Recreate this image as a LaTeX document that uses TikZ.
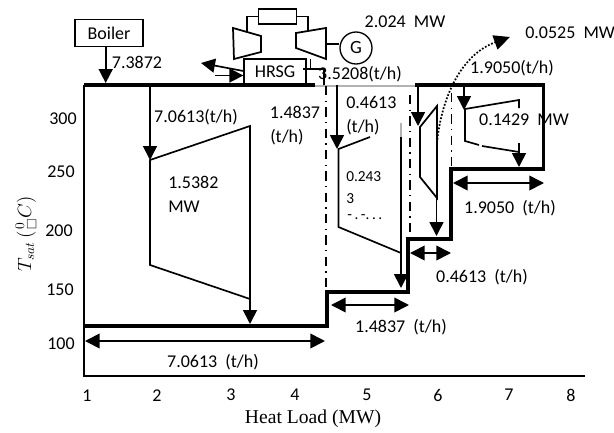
\documentclass[tikz,border=0pt]{standalone}
\usepackage{amsmath, amssymb}
\usepackage{fontspec}
\setmainfont{Carlito}
\newfontfamily\loadfont{Liberation Serif}
\usetikzlibrary{arrows.meta}
\tikzset{
  lbl/.style={inner sep=0pt, font=\fontsize{13.5}{16}\selectfont},
  lblsm/.style={inner sep=0pt, font=\fontsize{11.5}{14}\selectfont},
  boxnode/.style={draw, line width=1pt, inner sep=0pt},
  heavy/.style={line width=3.4pt, line join=miter},
  thinline/.style={line width=1.25pt},
  flow/.style={line width=1.25pt, -{Triangle[length=10.5pt,width=10.5pt]}},
  span/.style={line width=1.25pt, {Triangle[length=11pt,width=11pt]}-{Triangle[length=11pt,width=11pt]}},
  dashdotline/.style={line width=1pt, dash pattern=on 7pt off 4pt on 1pt off 4pt},
}
\begin{document}
\begin{tikzpicture}[x=0.75pt,y=0.75pt,yscale=-1,xscale=1]
\useasboundingbox (0,0) rectangle (614,432);

% Axis and composite curve
\draw [line width=1.6pt] (84,85) -- (84,376) -- (585,376) ;
\draw [heavy] (84,85) -- (315,85) ;
\draw [line width=0.8pt, gray!60] (315,86) -- (415,86) ;
\draw [heavy] (415,85) -- (545,85) ;
\draw [heavy] (84,326) -- (327,326) -- (327,292) -- (408,292) -- (408,239) -- (451,239) -- (451,169) -- (545,169) ;
\draw [line width=2.8pt] (543.5,85) -- (543.5,169) ;

% Pinch lines
\draw [dashdotline] (326,86) -- (326,292) ;
\draw [dashdotline] (410,95) -- (410,239) ;
\draw [dashdotline] (451.5,93) -- (451.5,169) ;

% Text Node
\draw (109,33) node (boiler) [boxnode, minimum width=51pt, minimum height=20.5pt, lbl] {Boiler};
\draw (275,72) node (hrsg) [boxnode, minimum width=46.5pt, minimum height=19.5pt, lbl] {HRSG};
\draw (277.5,16.5) node (cond) [boxnode, minimum width=28.5pt, minimum height=11.25pt] {};
\draw (356,48) node (gen) [boxnode, circle, minimum size=24pt, lbl, font=\fontsize{14}{16}\selectfont] {G};

% Gas turbine set
\draw [line width=1.3pt] (233,28) -- (261,36) -- (261,52) -- (234,59) -- cycle ;
\draw [line width=1.3pt] (296,33) -- (326,28) -- (326,59) -- (296,48) -- cycle ;
\draw [line width=1.3pt] (cond.west) -- (247,16.5) -- (247,33) ;
\draw [line width=1.3pt] (cond.east) -- (308,16.5) -- (308,31) ;
\draw [thinline] (326,44) -- (gen.west |- 326,44) ;
\draw [line width=1.3pt] (310.5,59) -- (310.5,69) ;
\draw [line width=1.3pt] (303,69) -- (324,69) -- (324,85) ;

% HRSG arrows
\coordinate (gasoutA) at (201,63) ;
\coordinate (gasinA) at (215,75.5) ;
\draw [flow] (hrsg.west |- 243,71) -- (gasoutA) ;
\draw [flow] (gasinA) -- (hrsg.west |- 243,75.5) ;

% Turbine one
\draw [thinline] (150,160) -- (250,126) -- (250,299) -- (150,265) -- cycle ;
\draw [flow] (150,85) -- (150,160) ;
\draw [flow] (250,272) -- (250,324) ;

% Turbine two
\draw [thinline] (370,137) -- (338.5,149) -- (338.5,227) -- (401,253) ;
\draw [line width=0.8pt, gray!60] (401,123) -- (401,137) ;
\draw [thinline] (401,137) -- (401,253) ;
\draw [flow] (337,85) -- (337,149) ;
\draw [flow] (401,253) -- (401,288) ;

% Turbine three
\draw [line width=1.3pt] (420,127) -- (437,106) -- (437,198) -- (420,177) -- cycle ;
\draw [flow] (418,85) -- (418,126) ;
\draw [flow] (436.5,198) -- (436.5,236) ;
\draw [line width=1.3pt, dash pattern=on 1.3pt off 1.3pt, -{Triangle[length=12pt,width=11pt]}] (437,143) .. controls (441,100) and (460,55) .. (510,37) ;

% Turbine four
\draw [thinline] (519,108) -- (519,100) -- (465,109) -- (465,141) -- (479,145) ;
\draw [thinline] (482,146) -- (519,152) ;
\draw [flow] (464,85) -- (464,110) ;
\draw [flow] (519,143) -- (519,167) ;

% Boiler arrow
\coordinate (hdrin) at (105.7,83) ;
\draw [flow] (boiler.south -| hdrin) -- (hdrin) ;

% Span arrows
\coordinate (spanAl) at (85,341) ;
\coordinate (spanAr) at (325,341) ;
\coordinate (spanBl) at (331,305) ;
\coordinate (spanBr) at (409,305) ;
\coordinate (spanCl) at (410,253) ;
\coordinate (spanCr) at (451,253) ;
\coordinate (spanDl) at (453,183) ;
\coordinate (spanDr) at (544,183) ;
\draw [span] (spanAl) -- (spanAr) ;
\draw [span] (spanBl) -- (spanBr) ;
\draw [span] (spanCl) -- (spanCr) ;
\draw [span] (spanDl) -- (spanDr) ;

% Text Node
\draw (137,62) node (lblboil) [lbl] {7.3872};
\draw (196,117) node (lblta) [lbl] {7.0613(t/h)};
\draw (295,112) node (lbltb) [lbl] {1.4837};
\draw (270,137) node (lbltbu) [lbl, anchor=west] {(t/h)};
\draw (360,74) node (lblhrsg) [lbl] {3.5208(t/h)};
\draw (405,22) node (lblgen) [lbl] {2.024\ \ MW};
\draw (525,33) node (lblloss) [lbl, anchor=west] {0.0525\ \ MW};
\draw (512,68) node (lbltd) [lbl] {1.9050(t/h)};
\draw (346,102) node (lbltc) [lbl, anchor=west] {0.4613};
\draw (346,127) node (lbltcu) [lbl, anchor=west] {(t/h)};
\draw (524,120) node (lblpd) [lbl] {0.1429\ \ MW};
\draw (346,177) node (lblpb) [lblsm, anchor=west] {0.243};
\draw (346,199) node (lblpbb) [lblsm, anchor=west] {3};
\draw (347,217) node (lblpbc) [lblsm, anchor=west] {-\,.\,-.\,.\,.};
\draw (168,182) node (lblpa) [lbl, anchor=west] {1.5382};
\draw (168,207) node (lblpau) [lbl, anchor=west] {MW};
\draw (510,208) node (lblsd) [lbl] {1.9050\ \ (t/h)};
\draw (482,277) node (lblsc) [lbl] {0.4613\ \ (t/h)};
\draw (401,327) node (lblsb) [lbl] {1.4837\ \ (t/h)};
\draw (213,362) node (lblsa) [lbl] {7.0613\ \ (t/h)};

% Axis labels
\draw (63,119) node (ylblA) [lbl] {300};
\draw (61,172) node (ylblB) [lbl] {250};
\draw (59,231) node (ylblC) [lbl] {200};
\draw (60,290) node (ylblD) [lbl] {150};
\draw (61,344) node (ylblE) [lbl] {100};
\draw (87,396) node (xlblA) [lbl] {1};
\draw (157,396) node (xlblB) [lbl] {2};
\draw (231,395) node (xlblC) [lbl] {3};
\draw (295,395) node (xlblD) [lbl] {4};
\draw (367,395) node (xlblE) [lbl] {5};
\draw (438,395) node (xlblF) [lbl] {6};
\draw (509,395) node (xlblG) [lbl] {7};
\draw (571,395) node (xlblH) [lbl] {8};
\draw (313,419) node (xtitle) [inner sep=0pt, font=\loadfont\fontsize{14.7}{17}\selectfont] {Heat Load (MW)};
\draw (26,234) node (ytitle) [inner sep=0pt, rotate=90, font=\fontsize{14.5}{17}\selectfont] {$T_{sat}\,(^{\,0}_{\,\square}C)$};

\end{tikzpicture}
\end{document}
